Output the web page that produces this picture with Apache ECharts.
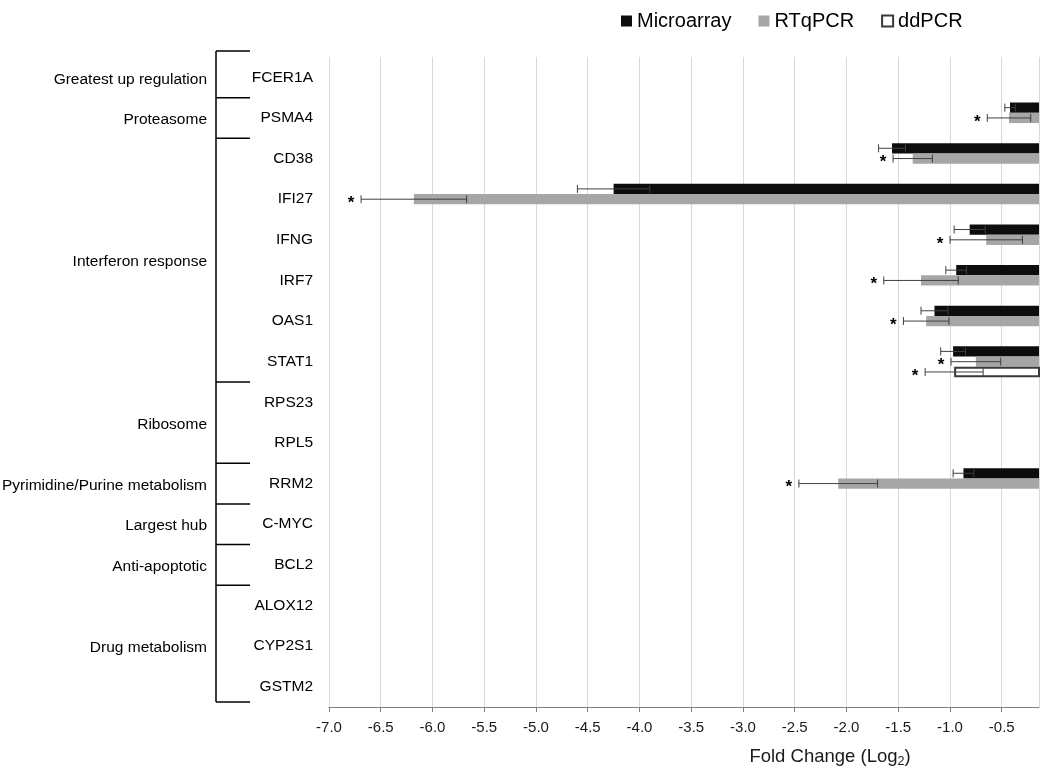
<!DOCTYPE html>
<html>
<head>
<meta charset="utf-8">
<script src="https://cdn.jsdelivr.net/npm/echarts@6/dist/echarts.min.js"></script>
<style>
  html, body { margin: 0; padding: 0; background: #ffffff; }
  #chart { width: 1050px; height: 782px; }
</style>
</head>
<body>
<div id="chart"></div>
<script>
// ---------------- data ----------------
const genes = ['FCER1A', 'PSMA4', 'CD38', 'IFI27', 'IFNG', 'IRF7', 'OAS1', 'STAT1',
  'RPS23', 'RPL5', 'RRM2', 'C-MYC', 'BCL2', 'ALOX12', 'CYP2S1', 'GSTM2'];

const microarray    = [null, -0.42, -1.56, -4.25, -0.81, -0.94, -1.15, -0.97, null, null, -0.87, null, null, null, null, null];
const microarrayErr = [null, 0.05, 0.13, 0.35, 0.15, 0.10, 0.13, 0.12, null, null, 0.10, null, null, null, null, null];
const microarraySig = [0, 0, 0, 0, 0, 0, 0, 0, 0, 0, 0, 0, 0, 0, 0, 0];

const rtqpcr    = [null, -0.43, -1.36, -6.18, -0.65, -1.28, -1.23, -0.75, null, null, -2.08, null, null, null, null, null];
const rtqpcrErr = [null, 0.21, 0.19, 0.51, 0.35, 0.36, 0.22, 0.24, null, null, 0.38, null, null, null, null, null];
const rtqpcrSig = [0, 1, 1, 1, 1, 1, 1, 1, 0, 0, 1, 0, 0, 0, 0, 0];

const ddpcr    = [null, null, null, null, null, null, null, -0.96, null, null, null, null, null, null, null, null];
const ddpcrErr = [null, null, null, null, null, null, null, 0.28, null, null, null, null, null, null, null, null];
const ddpcrSig = [0, 0, 0, 0, 0, 0, 0, 1, 0, 0, 0, 0, 0, 0, 0, 0];

const groups = [
  ['Greatest up regulation', 0, 1],
  ['Proteasome', 1, 1],
  ['Interferon response', 2, 6],
  ['Ribosome', 8, 2],
  ['Pyrimidine/Purine metabolism', 10, 1],
  ['Largest hub', 11, 1],
  ['Anti-apoptotic', 12, 1],
  ['Drug metabolism', 13, 3]
];

const xTicks = { min: -7.0, max: -0.14, interval: 0.5 };
// --------------------------------------

const FONT = '"Liberation Sans", Arial, sans-serif';
const GAP = 0.24;
const NSERIES = 3;

const chart = echarts.init(document.getElementById('chart'), null, { renderer: 'canvas' });

function errData(vals, errs, sigs) {
  const out = [];
  for (let i = 0; i < vals.length; i++) {
    if (vals[i] !== null && errs[i] !== null) out.push([i, vals[i], errs[i], sigs[i]]);
  }
  return out;
}

function errRenderer(slot) {
  return function (params, api) {
    const cat = api.value(0), v = api.value(1), e = api.value(2), sig = api.value(3);
    const band = api.size([0, 1])[1];
    const total = band * (1 - GAP);
    const w = total / NSERIES;
    const c = api.coord([v, cat]);
    const y = c[1] - total / 2 + w * slot + w / 2;
    const xl = api.coord([v - e, cat])[0];
    const xr = api.coord([v + e, cat])[0];
    const cap = 4;
    const st = { stroke: '#3f3f3f', lineWidth: 1 };
    const children = [
      { type: 'line', shape: { x1: xl, y1: y, x2: xr, y2: y }, style: st },
      { type: 'line', shape: { x1: xl, y1: y - cap, x2: xl, y2: y + cap }, style: st },
      { type: 'line', shape: { x1: xr, y1: y - cap, x2: xr, y2: y + cap }, style: st }
    ];
    if (sig) {
      children.push({
        type: 'text',
        style: {
          text: '*', x: xl - 10, y: y + 4, align: 'center', verticalAlign: 'middle',
          fontSize: 17, fontWeight: 'bold', fontFamily: FONT, fill: '#000'
        }
      });
    }
    return { type: 'group', children: children };
  };
}

const option = {
  animation: false,
  backgroundColor: '#ffffff',
  textStyle: { fontFamily: FONT },
  legend: {
    left: 621, top: 11, padding: 0,
    itemWidth: 11, itemHeight: 11, itemGap: 27,
    icon: 'rect',
    textStyle: { fontSize: 20, color: '#000', fontFamily: FONT },
    data: ['Microarray', 'RTqPCR', 'ddPCR']
  },
  grid: { left: 329, right: 11, top: 57, bottom: 75, containLabel: false },
  xAxis: {
    type: 'value',
    min: xTicks.min, max: xTicks.max, interval: xTicks.interval,
    name: 'Fold Change (Log{sub|2})',
    nameLocation: 'middle',
    nameGap: 38,
    nameTextStyle: {
      fontSize: 18.5, color: '#1a1a1a', fontFamily: FONT,
      padding: [0, 0, 0, 292],
      rich: { sub: { fontSize: 12.5, padding: [10, 0, 0, 0], fontFamily: FONT, color: '#1a1a1a' } }
    },
    axisLine: { show: true, lineStyle: { color: '#7f7f7f', width: 1 } },
    axisTick: { show: true, length: 5, lineStyle: { color: '#7f7f7f' } },
    axisLabel: {
      fontSize: 15, color: '#1a1a1a', margin: 13, fontFamily: FONT,
      showMaxLabel: false,
      formatter: function (v) { return v.toFixed(1); }
    },
    splitLine: { show: true, lineStyle: { color: '#d9d9d9', width: 1 } }
  },
  yAxis: {
    type: 'category',
    data: genes,
    inverse: true,
    axisLine: { show: false },
    axisTick: { show: false },
    splitLine: { show: false },
    axisLabel: { fontSize: 15.5, color: '#000', margin: 16, fontFamily: FONT, padding: [3, 0, 0, 0] }
  },
  series: [
    {
      name: 'Microarray', type: 'bar', data: microarray,
      barGap: '0%', barCategoryGap: (GAP * 100) + '%',
      itemStyle: { color: '#0d0d0d' }, z: 2
    },
    {
      name: 'RTqPCR', type: 'bar', data: rtqpcr,
      barGap: '0%', barCategoryGap: (GAP * 100) + '%',
      itemStyle: { color: '#a6a6a6' }, z: 2
    },
    {
      name: 'ddPCR', type: 'bar', data: ddpcr,
      barGap: '0%', barCategoryGap: (GAP * 100) + '%',
      itemStyle: { color: '#ffffff', borderColor: '#3a3a3a', borderWidth: 2 }, z: 2
    },
    { type: 'custom', renderItem: errRenderer(0), data: errData(microarray, microarrayErr, microarraySig), z: 5, clip: false, silent: true },
    { type: 'custom', renderItem: errRenderer(1), data: errData(rtqpcr, rtqpcrErr, rtqpcrSig), z: 5, clip: false, silent: true },
    { type: 'custom', renderItem: errRenderer(2), data: errData(ddpcr, ddpcrErr, ddpcrSig), z: 5, clip: false, silent: true }
  ]
};

chart.setOption(option);

// group brackets and group labels, positioned from the category axis
function catY(i) { return chart.convertToPixel({ yAxisIndex: 0 }, i); }
const band = catY(1) - catY(0);
function boundary(k) { return catY(0) + (k - 0.5) * band; }

const BX = 216, BX2 = 250, LX = 207;
const g = [];
const topY = boundary(0) - 6;
const botY = boundary(genes.length) - 5;
g.push({
  type: 'line', shape: { x1: BX, y1: topY, x2: BX, y2: botY },
  style: { stroke: '#000', lineWidth: 1.5 }, z: 10
});
const bset = new Set([0, genes.length]);
groups.forEach(function (gr) { bset.add(gr[1]); bset.add(gr[1] + gr[2]); });
bset.forEach(function (k) {
  let y = boundary(k);
  if (k === 0) y = topY;
  if (k === genes.length) y = botY;
  g.push({
    type: 'line', shape: { x1: BX, y1: y, x2: BX2, y2: y },
    style: { stroke: '#000', lineWidth: 1.5 }, z: 10
  });
});
groups.forEach(function (gr) {
  const yc = (boundary(gr[1]) + boundary(gr[1] + gr[2])) / 2 + 2;
  g.push({
    type: 'text', x: LX, y: yc, z: 10,
    style: { text: gr[0], align: 'right', verticalAlign: 'middle', fontSize: 15.5, fontFamily: FONT, fill: '#000' }
  });
});
chart.setOption({ graphic: g });
</script>
</body>
</html>
